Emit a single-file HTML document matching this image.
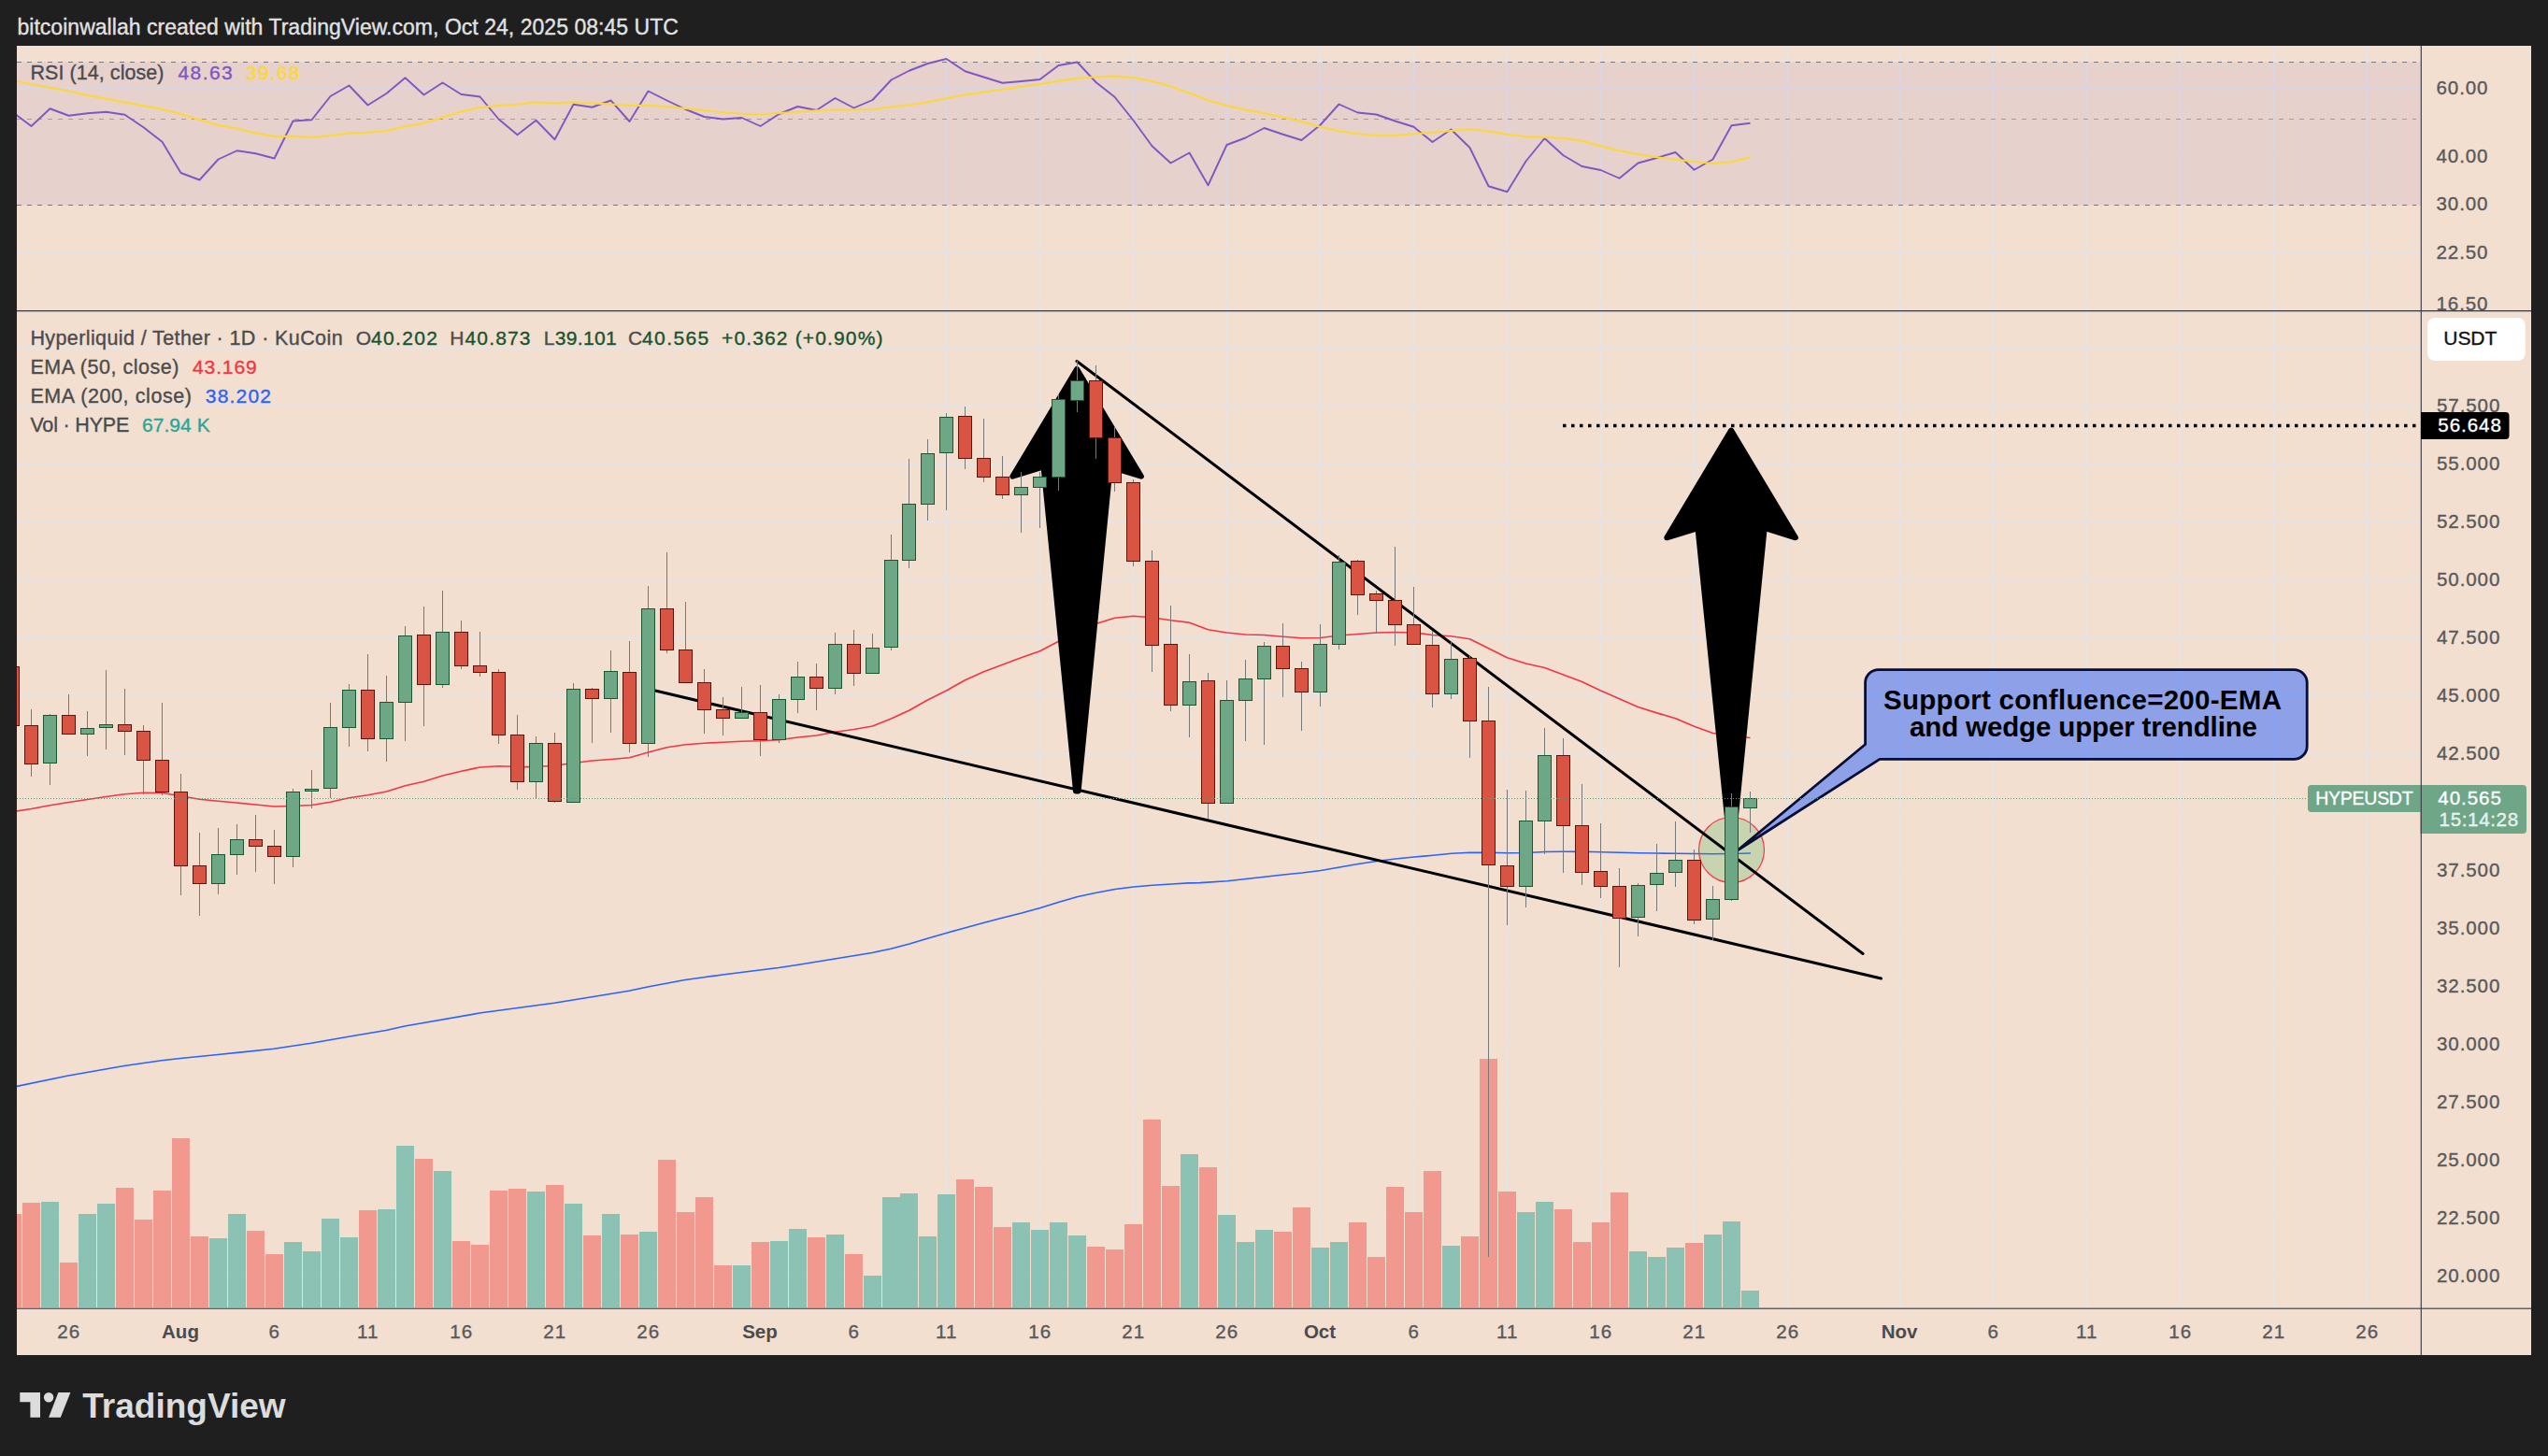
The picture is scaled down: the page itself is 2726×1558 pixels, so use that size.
<!DOCTYPE html>
<html lang="en"><head><meta charset="utf-8"><title>HYPEUSDT chart</title>
<style>
html,body{margin:0;padding:0;background:#1f1f1f;}
body{width:2726px;height:1558px;overflow:hidden;font-family:"Liberation Sans", Arial, sans-serif;}
svg{display:block;font-family:"Liberation Sans", Arial, sans-serif;}
text{white-space:pre;}
</style></head><body>
<svg width="2726" height="1558" viewBox="0 0 2726 1558">
<defs>
<clipPath id="plot"><rect x="18" y="49" width="2572" height="1351"/></clipPath>
<clipPath id="rsi"><rect x="18" y="49" width="2690" height="283.0"/></clipPath>
<clipPath id="main"><rect x="18" y="332.5" width="2572" height="1067.5"/></clipPath>
</defs>
<rect width="2726" height="1558" fill="#1f1f1f"/>
<rect x="18" y="49" width="2690" height="1401" fill="#f2dfcf"/>

<text x="18.4" y="36.5" font-size="23" fill="#e2e2e2" stroke="#e2e2e2" stroke-width="0.35" textLength="707.5" lengthAdjust="spacing" >bitcoinwallah created with TradingView.com, Oct 24, 2025 08:45 UTC</text>
<g stroke="#e5e5e7" stroke-width="1" shape-rendering="crispEdges">
<line x1="73.5" y1="49" x2="73.5" y2="1400"/>
<line x1="193.5" y1="49" x2="193.5" y2="1400"/>
<line x1="293.5" y1="49" x2="293.5" y2="1400"/>
<line x1="393.5" y1="49" x2="393.5" y2="1400"/>
<line x1="493.5" y1="49" x2="493.5" y2="1400"/>
<line x1="593.5" y1="49" x2="593.5" y2="1400"/>
<line x1="693.5" y1="49" x2="693.5" y2="1400"/>
<line x1="813.5" y1="49" x2="813.5" y2="1400"/>
<line x1="913.5" y1="49" x2="913.5" y2="1400"/>
<line x1="1012.5" y1="49" x2="1012.5" y2="1400"/>
<line x1="1112.5" y1="49" x2="1112.5" y2="1400"/>
<line x1="1212.5" y1="49" x2="1212.5" y2="1400"/>
<line x1="1312.5" y1="49" x2="1312.5" y2="1400"/>
<line x1="1412.5" y1="49" x2="1412.5" y2="1400"/>
<line x1="1512.5" y1="49" x2="1512.5" y2="1400"/>
<line x1="1612.5" y1="49" x2="1612.5" y2="1400"/>
<line x1="1712.5" y1="49" x2="1712.5" y2="1400"/>
<line x1="1812.5" y1="49" x2="1812.5" y2="1400"/>
<line x1="1912.5" y1="49" x2="1912.5" y2="1400"/>
<line x1="2032.5" y1="49" x2="2032.5" y2="1400"/>
<line x1="2132.5" y1="49" x2="2132.5" y2="1400"/>
<line x1="2232.5" y1="49" x2="2232.5" y2="1400"/>
<line x1="2332.5" y1="49" x2="2332.5" y2="1400"/>
<line x1="2432.5" y1="49" x2="2432.5" y2="1400"/>
<line x1="2532.5" y1="49" x2="2532.5" y2="1400"/>
<line x1="18" y1="94.5" x2="2590" y2="94.5"/>
<line x1="18" y1="167.5" x2="2590" y2="167.5"/>
<line x1="18" y1="270.5" x2="2590" y2="270.5"/>
<line x1="18" y1="325.5" x2="2590" y2="325.5"/>
<line x1="18" y1="372.5" x2="2590" y2="372.5"/>
<line x1="18" y1="434.5" x2="2590" y2="434.5"/>
<line x1="18" y1="496.5" x2="2590" y2="496.5"/>
<line x1="18" y1="558.5" x2="2590" y2="558.5"/>
<line x1="18" y1="620.5" x2="2590" y2="620.5"/>
<line x1="18" y1="682.5" x2="2590" y2="682.5"/>
<line x1="18" y1="744.5" x2="2590" y2="744.5"/>
<line x1="18" y1="806.5" x2="2590" y2="806.5"/>
<line x1="18" y1="869.5" x2="2590" y2="869.5"/>
<line x1="18" y1="931.5" x2="2590" y2="931.5"/>
<line x1="18" y1="993.5" x2="2590" y2="993.5"/>
<line x1="18" y1="1055.5" x2="2590" y2="1055.5"/>
<line x1="18" y1="1117.5" x2="2590" y2="1117.5"/>
<line x1="18" y1="1179.5" x2="2590" y2="1179.5"/>
<line x1="18" y1="1241.5" x2="2590" y2="1241.5"/>
<line x1="18" y1="1303.5" x2="2590" y2="1303.5"/>
<line x1="18" y1="1365.5" x2="2590" y2="1365.5"/>
</g>
<g clip-path="url(#plot)">
<rect x="18" y="66.5" width="2572" height="153.0" fill="#7e57c2" fill-opacity="0.1"/>
<g stroke-width="1.2" stroke-dasharray="5 6" fill="none">
<line x1="18" y1="66.5" x2="2585" y2="66.5" stroke="#737786"/>
<line x1="18" y1="127.5" x2="2585" y2="127.5" stroke="#737786" stroke-opacity="0.6"/>
<line x1="18" y1="219.5" x2="2585" y2="219.5" stroke="#737786"/>
</g>
<polyline points="13.5,120.00 33.5,135.00 53.5,116.25 73.5,123.75 93.5,121.25 113.5,119.75 133.5,122.75 153.5,136.25 173.5,151.75 193.5,185.00 213.5,192.50 233.5,170.50 253.5,161.25 273.5,164.25 293.5,169.50 313.5,129.50 333.5,128.25 353.5,103.00 373.5,91.50 393.5,112.50 413.5,100.00 433.5,83.25 453.5,101.50 473.5,88.50 493.5,101.00 513.5,103.50 533.5,127.50 553.5,144.25 573.5,128.75 593.5,149.25 613.5,111.75 633.5,114.75 653.5,107.50 673.5,130.00 693.5,97.50 713.5,107.50 733.5,117.00 753.5,125.00 773.5,127.50 793.5,126.00 813.5,135.00 833.5,122.00 853.5,114.00 873.5,118.00 893.5,105.00 913.5,115.50 933.5,107.00 953.5,85.50 972.5,75.75 992.5,68.00 1012.5,63.00 1032.5,76.25 1052.5,82.50 1072.5,88.75 1092.5,87.00 1112.5,85.00 1132.5,70.00 1152.5,66.50 1172.5,88.00 1192.5,103.75 1212.5,128.75 1232.5,156.25 1252.5,174.50 1272.5,163.50 1292.5,198.25 1312.5,155.00 1332.5,147.50 1352.5,137.00 1372.5,143.75 1392.5,150.00 1412.5,133.75 1432.5,111.50 1452.5,120.50 1472.5,122.50 1492.5,129.50 1512.5,135.75 1532.5,152.00 1552.5,138.50 1572.5,158.00 1592.5,199.25 1612.5,205.25 1632.5,172.50 1652.5,148.00 1672.5,166.25 1692.5,178.00 1712.5,182.00 1732.5,190.75 1752.5,174.50 1772.5,169.00 1792.5,163.00 1812.5,181.75 1832.5,170.50 1852.5,134.25 1872.5,131.75" fill="none" stroke="#7e57c2" stroke-width="1.9" stroke-linejoin="round"/>
<polyline points="13.5,86.00 33.5,90.00 53.5,93.75 73.5,97.50 93.5,102.00 113.5,105.75 133.5,109.50 153.5,113.25 173.5,117.00 193.5,122.00 213.5,128.25 233.5,134.00 253.5,137.50 273.5,142.50 293.5,146.00 313.5,145.75 333.5,147.00 353.5,145.00 373.5,142.50 393.5,141.75 413.5,140.00 433.5,135.50 453.5,131.75 473.5,125.50 493.5,119.50 513.5,115.00 533.5,113.00 553.5,111.75 573.5,109.50 593.5,110.50 613.5,109.25 633.5,110.50 653.5,111.50 673.5,113.00 693.5,112.75 713.5,114.25 733.5,116.00 753.5,118.25 773.5,120.25 793.5,121.75 813.5,122.50 833.5,121.00 853.5,119.75 873.5,118.25 893.5,117.50 913.5,117.50 933.5,117.25 953.5,114.25 972.5,112.50 992.5,109.25 1012.5,105.25 1032.5,101.50 1052.5,98.50 1072.5,95.75 1092.5,92.75 1112.5,90.00 1132.5,86.75 1152.5,83.75 1172.5,82.25 1192.5,81.50 1212.5,83.00 1232.5,87.00 1252.5,92.50 1272.5,99.50 1292.5,107.50 1312.5,113.00 1332.5,117.50 1352.5,121.25 1372.5,125.50 1392.5,130.00 1412.5,135.75 1432.5,140.25 1452.5,143.25 1472.5,145.00 1492.5,145.00 1512.5,143.25 1532.5,141.75 1552.5,140.00 1572.5,138.00 1592.5,140.50 1612.5,143.75 1632.5,146.25 1652.5,146.75 1672.5,148.00 1692.5,150.75 1712.5,156.25 1732.5,161.25 1752.5,165.25 1772.5,168.25 1792.5,170.50 1812.5,173.00 1832.5,175.00 1852.5,173.25 1872.5,168.25" fill="none" stroke="#fdd835" stroke-width="1.9" stroke-linejoin="round"/>
</g>
<text x="32.5" y="85" font-size="21.5" fill="#4b4b4d" stroke="#4b4b4d" stroke-width="0.35" textLength="143" lengthAdjust="spacing" >RSI (14, close)</text>
<text x="190.5" y="85" font-size="21" fill="#7e57c2" stroke="#7e57c2" stroke-width="0.35" textLength="58.3" lengthAdjust="spacing" >48.63</text>
<text x="263" y="85" font-size="21" fill="#fdd835" stroke="#fdd835" stroke-width="0.35" textLength="57.5" lengthAdjust="spacing" >39.68</text>
<g clip-path="url(#main)">
<g shape-rendering="crispEdges" fill-opacity="0.5">
<rect x="4.0" y="1299" width="19" height="100" fill="#ef5350"/>
<rect x="24.0" y="1287" width="19" height="112" fill="#ef5350"/>
<rect x="44.0" y="1286" width="19" height="113" fill="#26a69a"/>
<rect x="64.0" y="1351" width="19" height="48" fill="#ef5350"/>
<rect x="84.0" y="1299" width="19" height="100" fill="#26a69a"/>
<rect x="104.0" y="1288" width="19" height="111" fill="#26a69a"/>
<rect x="124.0" y="1271" width="19" height="128" fill="#ef5350"/>
<rect x="144.0" y="1305" width="19" height="94" fill="#ef5350"/>
<rect x="164.0" y="1274" width="19" height="125" fill="#ef5350"/>
<rect x="184.0" y="1218" width="19" height="181" fill="#ef5350"/>
<rect x="204.0" y="1323" width="19" height="76" fill="#ef5350"/>
<rect x="224.0" y="1325" width="19" height="74" fill="#26a69a"/>
<rect x="244.0" y="1299" width="19" height="100" fill="#26a69a"/>
<rect x="264.0" y="1317" width="19" height="82" fill="#ef5350"/>
<rect x="284.0" y="1342" width="19" height="57" fill="#ef5350"/>
<rect x="304.0" y="1329" width="19" height="70" fill="#26a69a"/>
<rect x="324.0" y="1339" width="19" height="60" fill="#26a69a"/>
<rect x="344.0" y="1304" width="19" height="95" fill="#26a69a"/>
<rect x="364.0" y="1324" width="19" height="75" fill="#26a69a"/>
<rect x="384.0" y="1295" width="19" height="104" fill="#ef5350"/>
<rect x="404.0" y="1294" width="19" height="105" fill="#26a69a"/>
<rect x="424.0" y="1226" width="19" height="173" fill="#26a69a"/>
<rect x="444.0" y="1240" width="19" height="159" fill="#ef5350"/>
<rect x="464.0" y="1253" width="19" height="146" fill="#26a69a"/>
<rect x="484.0" y="1328" width="19" height="71" fill="#ef5350"/>
<rect x="504.0" y="1332" width="19" height="67" fill="#ef5350"/>
<rect x="524.0" y="1274" width="19" height="125" fill="#ef5350"/>
<rect x="544.0" y="1272" width="19" height="127" fill="#ef5350"/>
<rect x="564.0" y="1275" width="19" height="124" fill="#26a69a"/>
<rect x="584.0" y="1268" width="19" height="131" fill="#ef5350"/>
<rect x="604.0" y="1288" width="19" height="111" fill="#26a69a"/>
<rect x="624.0" y="1322" width="19" height="77" fill="#ef5350"/>
<rect x="644.0" y="1299" width="19" height="100" fill="#26a69a"/>
<rect x="664.0" y="1321" width="19" height="78" fill="#ef5350"/>
<rect x="684.0" y="1318" width="19" height="81" fill="#26a69a"/>
<rect x="704.0" y="1241" width="19" height="158" fill="#ef5350"/>
<rect x="724.0" y="1297" width="19" height="102" fill="#ef5350"/>
<rect x="744.0" y="1281" width="19" height="118" fill="#ef5350"/>
<rect x="764.0" y="1354" width="19" height="45" fill="#ef5350"/>
<rect x="784.0" y="1354" width="19" height="45" fill="#26a69a"/>
<rect x="804.0" y="1329" width="19" height="70" fill="#ef5350"/>
<rect x="824.0" y="1328" width="19" height="71" fill="#26a69a"/>
<rect x="844.0" y="1315" width="19" height="84" fill="#26a69a"/>
<rect x="864.0" y="1324" width="19" height="75" fill="#ef5350"/>
<rect x="884.0" y="1321" width="19" height="78" fill="#26a69a"/>
<rect x="904.0" y="1342" width="19" height="57" fill="#ef5350"/>
<rect x="924.0" y="1365" width="19" height="34" fill="#26a69a"/>
<rect x="944.0" y="1281" width="19" height="118" fill="#26a69a"/>
<rect x="963.0" y="1277" width="19" height="122" fill="#26a69a"/>
<rect x="983.0" y="1323" width="19" height="76" fill="#26a69a"/>
<rect x="1003.0" y="1278" width="19" height="121" fill="#26a69a"/>
<rect x="1023.0" y="1262" width="19" height="137" fill="#ef5350"/>
<rect x="1043.0" y="1270" width="19" height="129" fill="#ef5350"/>
<rect x="1063.0" y="1313" width="19" height="86" fill="#ef5350"/>
<rect x="1083.0" y="1308" width="19" height="91" fill="#26a69a"/>
<rect x="1103.0" y="1316" width="19" height="83" fill="#26a69a"/>
<rect x="1123.0" y="1308" width="19" height="91" fill="#26a69a"/>
<rect x="1143.0" y="1322" width="19" height="77" fill="#26a69a"/>
<rect x="1163.0" y="1334" width="19" height="65" fill="#ef5350"/>
<rect x="1183.0" y="1337" width="19" height="62" fill="#ef5350"/>
<rect x="1203.0" y="1310" width="19" height="89" fill="#ef5350"/>
<rect x="1223.0" y="1198" width="19" height="201" fill="#ef5350"/>
<rect x="1243.0" y="1269" width="19" height="130" fill="#ef5350"/>
<rect x="1263.0" y="1235" width="19" height="164" fill="#26a69a"/>
<rect x="1283.0" y="1249" width="19" height="150" fill="#ef5350"/>
<rect x="1303.0" y="1300" width="19" height="99" fill="#26a69a"/>
<rect x="1323.0" y="1329" width="19" height="70" fill="#26a69a"/>
<rect x="1343.0" y="1316" width="19" height="83" fill="#26a69a"/>
<rect x="1363.0" y="1318" width="19" height="81" fill="#ef5350"/>
<rect x="1383.0" y="1292" width="19" height="107" fill="#ef5350"/>
<rect x="1403.0" y="1335" width="19" height="64" fill="#26a69a"/>
<rect x="1423.0" y="1329" width="19" height="70" fill="#26a69a"/>
<rect x="1443.0" y="1308" width="19" height="91" fill="#ef5350"/>
<rect x="1463.0" y="1345" width="19" height="54" fill="#ef5350"/>
<rect x="1483.0" y="1270" width="19" height="129" fill="#ef5350"/>
<rect x="1503.0" y="1297" width="19" height="102" fill="#ef5350"/>
<rect x="1523.0" y="1253" width="19" height="146" fill="#ef5350"/>
<rect x="1543.0" y="1333" width="19" height="66" fill="#26a69a"/>
<rect x="1563.0" y="1323" width="19" height="76" fill="#ef5350"/>
<rect x="1583.0" y="1133" width="19" height="266" fill="#ef5350"/>
<rect x="1603.0" y="1275" width="19" height="124" fill="#ef5350"/>
<rect x="1623.0" y="1297" width="19" height="102" fill="#26a69a"/>
<rect x="1643.0" y="1286" width="19" height="113" fill="#26a69a"/>
<rect x="1663.0" y="1294" width="19" height="105" fill="#ef5350"/>
<rect x="1683.0" y="1329" width="19" height="70" fill="#ef5350"/>
<rect x="1703.0" y="1308" width="19" height="91" fill="#ef5350"/>
<rect x="1723.0" y="1276" width="19" height="123" fill="#ef5350"/>
<rect x="1743.0" y="1339" width="19" height="60" fill="#26a69a"/>
<rect x="1763.0" y="1345" width="19" height="54" fill="#26a69a"/>
<rect x="1783.0" y="1335" width="19" height="64" fill="#26a69a"/>
<rect x="1803.0" y="1330" width="19" height="69" fill="#ef5350"/>
<rect x="1823.0" y="1321" width="19" height="78" fill="#26a69a"/>
<rect x="1843.0" y="1307" width="19" height="92" fill="#26a69a"/>
<rect x="1863.0" y="1381" width="19" height="18" fill="#26a69a"/>
</g>
<polyline points="13.0,1163.50 18.0,1162.50 73.0,1151.00 133.0,1140.50 173.0,1134.75 193.0,1132.50 233.0,1128.50 293.0,1122.25 333.0,1116.25 373.0,1109.25 413.0,1102.50 433.0,1098.00 513.0,1084.00 593.0,1073.25 647.0,1064.50 673.0,1060.25 693.0,1056.00 713.0,1052.25 733.0,1048.50 753.0,1045.75 773.0,1043.00 793.0,1040.50 813.0,1038.00 833.0,1035.50 853.0,1032.50 873.0,1029.25 893.0,1026.00 913.0,1022.75 933.0,1019.50 953.0,1015.25 973.0,1010.00 993.0,1004.00 1013.0,998.25 1033.0,992.75 1053.0,987.25 1073.0,982.00 1093.0,977.00 1113.0,971.50 1133.0,965.25 1153.0,959.50 1173.0,955.25 1193.0,951.50 1213.0,949.00 1233.0,947.25 1253.0,946.00 1273.0,944.75 1284.0,944.70 1313.0,942.75 1333.0,940.50 1353.0,938.25 1373.0,936.00 1393.0,934.00 1413.0,931.50 1433.0,928.00 1453.0,924.50 1473.0,921.50 1493.0,919.00 1513.0,917.00 1533.0,915.25 1553.0,913.25 1573.0,912.25 1593.0,912.25 1613.0,912.75 1633.0,912.50 1653.0,911.50 1673.0,911.25 1693.0,911.25 1713.0,911.75 1733.0,912.25 1753.0,912.75 1773.0,913.00 1793.0,913.25 1813.0,913.50 1833.0,913.75 1853.0,913.50 1873.0,913.00" fill="none" stroke="#2962ff" stroke-width="1.75" stroke-linejoin="round"/>
<polyline points="13.5,868.50 33.5,865.50 53.5,861.75 73.5,858.50 93.5,855.50 113.5,852.50 133.5,849.75 153.5,848.25 173.5,848.50 193.5,851.75 213.5,855.25 233.5,857.25 253.5,859.00 273.5,861.00 293.5,863.00 313.5,862.50 333.5,861.50 353.5,858.25 373.5,853.75 393.5,850.75 413.5,847.00 433.5,840.75 453.5,836.25 473.5,830.00 493.5,825.25 513.5,821.00 533.5,819.75 553.5,820.50 573.5,820.50 593.5,819.25 613.5,816.50 633.5,814.00 653.5,812.50 673.5,810.75 693.5,805.00 713.5,799.75 733.5,796.75 753.5,795.25 773.5,794.25 793.5,793.25 813.5,792.75 833.5,791.75 853.5,789.00 873.5,787.00 893.5,783.25 913.5,780.50 933.5,777.00 953.5,769.00 972.5,760.25 992.5,749.00 1012.5,739.00 1032.5,727.75 1052.5,718.75 1072.5,711.25 1092.5,703.75 1112.5,696.75 1132.5,686.25 1152.5,676.25 1172.5,667.50 1192.5,661.25 1212.5,659.25 1232.5,660.75 1252.5,663.75 1272.5,666.25 1292.5,673.75 1312.5,677.00 1332.5,679.00 1352.5,679.50 1372.5,681.25 1392.5,682.75 1412.5,682.50 1432.5,680.00 1452.5,678.50 1472.5,677.00 1492.5,676.50 1512.5,677.00 1532.5,679.50 1552.5,680.75 1572.5,683.75 1592.5,693.75 1612.5,703.75 1632.5,710.00 1652.5,714.50 1672.5,722.00 1692.5,729.50 1712.5,739.00 1732.5,747.75 1752.5,756.50 1772.5,762.80 1792.5,768.75 1812.5,777.30 1832.5,784.50 1852.5,787.50 1872.5,789.50" fill="none" stroke="#f23645" stroke-width="1.75" stroke-linejoin="round"/>
<polygon points="1152.1,395.0 1220.9,509.7 1187.7,499.4 1153.6,846.5 1151.0,846.5 1116.5,499.4 1083.3,509.7" fill="#000" stroke="#000" stroke-width="6" stroke-linejoin="round"/>
<polygon points="1852.1,460.6 1920.9,575.3 1887.7,565.0 1853.7,906.0 1851.1,906.0 1816.5,565.1 1783.3,575.3" fill="#000" stroke="#000" stroke-width="6" stroke-linejoin="round"/>
<circle cx="1852.5" cy="909.5" r="35" fill="#4caf50" fill-opacity="0.25" stroke="#f23645" stroke-width="1.2"/>
<g stroke="#000" stroke-width="3.05" stroke-linecap="round">
<line x1="1152" y1="386.5" x2="1993" y2="1020.5"/>
<line x1="693.5" y1="737.3" x2="2012.5" y2="1047"/>
</g>
<line x1="1672" y1="455.4" x2="2586" y2="455.4" stroke="#000" stroke-width="3.5" stroke-dasharray="3.5 5.5"/>
<path d="M2009.6,716.6 H2454.2 a14,14 0 0 1 14,14 V798.4 a14,14 0 0 1 -14,14 H2011 L1858.8,910 L1995.6,796.5 V730.6 a14,14 0 0 1 14,-14 Z" fill="#2962ff" fill-opacity="0.5" stroke="none"/>
<path d="M2009.6,716.6 H2454.2 a14,14 0 0 1 14,14 V798.4 a14,14 0 0 1 -14,14 H2011 L1858.8,910 L1995.6,796.5 V730.6 a14,14 0 0 1 14,-14 Z" fill="none" stroke="#060e36" stroke-width="2.8" stroke-linejoin="round"/>
<text x="2228" y="758.75" font-size="29.5" fill="#000" font-weight="bold" textLength="426" lengthAdjust="spacing" text-anchor="middle" >Support confluence=200-EMA</text>
<text x="2229" y="787.5" font-size="29.5" fill="#000" font-weight="bold" textLength="372" lengthAdjust="spacing" text-anchor="middle" >and wedge upper trendline</text>
<g shape-rendering="crispEdges">
<rect x="13.0" y="713" width="1" height="63" fill="#77787a"/>
<rect x="6.5" y="713.5" width="14" height="63.0" fill="#d95443" stroke="#5c140c" stroke-width="1"/>
<rect x="33.0" y="759" width="1" height="72" fill="#77787a"/>
<rect x="26.5" y="776.5" width="14" height="41.0" fill="#d95443" stroke="#5c140c" stroke-width="1"/>
<rect x="53.0" y="764" width="1" height="76" fill="#77787a"/>
<rect x="46.5" y="765.5" width="14" height="51.0" fill="#6ea785" stroke="#1b5532" stroke-width="1"/>
<rect x="73.0" y="743" width="1" height="43" fill="#77787a"/>
<rect x="66.5" y="765.5" width="14" height="20.0" fill="#d95443" stroke="#5c140c" stroke-width="1"/>
<rect x="93.0" y="761" width="1" height="48" fill="#77787a"/>
<rect x="86.5" y="779.5" width="14" height="6.0" fill="#6ea785" stroke="#1b5532" stroke-width="1"/>
<rect x="113.0" y="717" width="1" height="85" fill="#77787a"/>
<rect x="106.5" y="775.5" width="14" height="3.0" fill="#6ea785" stroke="#1b5532" stroke-width="1"/>
<rect x="133.0" y="737" width="1" height="71" fill="#77787a"/>
<rect x="126.5" y="775.5" width="14" height="7.0" fill="#d95443" stroke="#5c140c" stroke-width="1"/>
<rect x="153.0" y="776" width="1" height="74" fill="#77787a"/>
<rect x="146.5" y="782.5" width="14" height="31.0" fill="#d95443" stroke="#5c140c" stroke-width="1"/>
<rect x="173.0" y="752" width="1" height="99" fill="#77787a"/>
<rect x="166.5" y="813.5" width="14" height="34.0" fill="#d95443" stroke="#5c140c" stroke-width="1"/>
<rect x="193.0" y="828" width="1" height="130" fill="#77787a"/>
<rect x="186.5" y="847.5" width="14" height="79.0" fill="#d95443" stroke="#5c140c" stroke-width="1"/>
<rect x="213.0" y="891" width="1" height="89" fill="#77787a"/>
<rect x="206.5" y="926.5" width="14" height="19.0" fill="#d95443" stroke="#5c140c" stroke-width="1"/>
<rect x="233.0" y="886" width="1" height="71" fill="#77787a"/>
<rect x="226.5" y="914.5" width="14" height="31.0" fill="#6ea785" stroke="#1b5532" stroke-width="1"/>
<rect x="253.0" y="882" width="1" height="54" fill="#77787a"/>
<rect x="246.5" y="898.5" width="14" height="16.0" fill="#6ea785" stroke="#1b5532" stroke-width="1"/>
<rect x="273.0" y="872" width="1" height="61" fill="#77787a"/>
<rect x="266.5" y="898.5" width="14" height="7.0" fill="#d95443" stroke="#5c140c" stroke-width="1"/>
<rect x="293.0" y="888" width="1" height="58" fill="#77787a"/>
<rect x="286.5" y="905.5" width="14" height="11.0" fill="#d95443" stroke="#5c140c" stroke-width="1"/>
<rect x="313.0" y="844" width="1" height="84" fill="#77787a"/>
<rect x="306.5" y="847.5" width="14" height="69.0" fill="#6ea785" stroke="#1b5532" stroke-width="1"/>
<rect x="333.0" y="824" width="1" height="41" fill="#77787a"/>
<rect x="326.5" y="844.5" width="14" height="2.0" fill="#6ea785" stroke="#1b5532" stroke-width="1"/>
<rect x="353.0" y="752" width="1" height="102" fill="#77787a"/>
<rect x="346.5" y="778.5" width="14" height="65.0" fill="#6ea785" stroke="#1b5532" stroke-width="1"/>
<rect x="373.0" y="732" width="1" height="67" fill="#77787a"/>
<rect x="366.5" y="738.5" width="14" height="40.0" fill="#6ea785" stroke="#1b5532" stroke-width="1"/>
<rect x="393.0" y="700" width="1" height="104" fill="#77787a"/>
<rect x="386.5" y="738.5" width="14" height="52.0" fill="#d95443" stroke="#5c140c" stroke-width="1"/>
<rect x="413.0" y="723" width="1" height="92" fill="#77787a"/>
<rect x="406.5" y="751.5" width="14" height="39.0" fill="#6ea785" stroke="#1b5532" stroke-width="1"/>
<rect x="433.0" y="670" width="1" height="123" fill="#77787a"/>
<rect x="426.5" y="680.5" width="14" height="71.0" fill="#6ea785" stroke="#1b5532" stroke-width="1"/>
<rect x="453.0" y="649" width="1" height="128" fill="#77787a"/>
<rect x="446.5" y="679.5" width="14" height="53.0" fill="#d95443" stroke="#5c140c" stroke-width="1"/>
<rect x="473.0" y="632" width="1" height="104" fill="#77787a"/>
<rect x="466.5" y="676.5" width="14" height="56.0" fill="#6ea785" stroke="#1b5532" stroke-width="1"/>
<rect x="493.0" y="664" width="1" height="52" fill="#77787a"/>
<rect x="486.5" y="676.5" width="14" height="36.0" fill="#d95443" stroke="#5c140c" stroke-width="1"/>
<rect x="513.0" y="676" width="1" height="48" fill="#77787a"/>
<rect x="506.5" y="712.5" width="14" height="7.0" fill="#d95443" stroke="#5c140c" stroke-width="1"/>
<rect x="533.0" y="716" width="1" height="80" fill="#77787a"/>
<rect x="526.5" y="719.5" width="14" height="67.0" fill="#d95443" stroke="#5c140c" stroke-width="1"/>
<rect x="553.0" y="765" width="1" height="80" fill="#77787a"/>
<rect x="546.5" y="786.5" width="14" height="50.0" fill="#d95443" stroke="#5c140c" stroke-width="1"/>
<rect x="573.0" y="788" width="1" height="66" fill="#77787a"/>
<rect x="566.5" y="795.5" width="14" height="41.0" fill="#6ea785" stroke="#1b5532" stroke-width="1"/>
<rect x="593.0" y="784" width="1" height="75" fill="#77787a"/>
<rect x="586.5" y="795.5" width="14" height="62.0" fill="#d95443" stroke="#5c140c" stroke-width="1"/>
<rect x="613.0" y="731" width="1" height="128" fill="#77787a"/>
<rect x="606.5" y="737.5" width="14" height="121.0" fill="#6ea785" stroke="#1b5532" stroke-width="1"/>
<rect x="633.0" y="736" width="1" height="59" fill="#77787a"/>
<rect x="626.5" y="737.5" width="14" height="10.0" fill="#d95443" stroke="#5c140c" stroke-width="1"/>
<rect x="653.0" y="696" width="1" height="88" fill="#77787a"/>
<rect x="646.5" y="718.5" width="14" height="29.0" fill="#6ea785" stroke="#1b5532" stroke-width="1"/>
<rect x="673.0" y="686" width="1" height="119" fill="#77787a"/>
<rect x="666.5" y="719.5" width="14" height="76.0" fill="#d95443" stroke="#5c140c" stroke-width="1"/>
<rect x="693.0" y="627" width="1" height="183" fill="#77787a"/>
<rect x="686.5" y="651.5" width="14" height="144.0" fill="#6ea785" stroke="#1b5532" stroke-width="1"/>
<rect x="713.0" y="591" width="1" height="108" fill="#77787a"/>
<rect x="706.5" y="651.5" width="14" height="44.0" fill="#d95443" stroke="#5c140c" stroke-width="1"/>
<rect x="733.0" y="644" width="1" height="87" fill="#77787a"/>
<rect x="726.5" y="695.5" width="14" height="35.0" fill="#d95443" stroke="#5c140c" stroke-width="1"/>
<rect x="753.0" y="716" width="1" height="69" fill="#77787a"/>
<rect x="746.5" y="730.5" width="14" height="29.0" fill="#d95443" stroke="#5c140c" stroke-width="1"/>
<rect x="773.0" y="746" width="1" height="41" fill="#77787a"/>
<rect x="766.5" y="759.5" width="14" height="9.0" fill="#d95443" stroke="#5c140c" stroke-width="1"/>
<rect x="793.0" y="735" width="1" height="34" fill="#77787a"/>
<rect x="786.5" y="762.5" width="14" height="6.0" fill="#6ea785" stroke="#1b5532" stroke-width="1"/>
<rect x="813.0" y="733" width="1" height="76" fill="#77787a"/>
<rect x="806.5" y="762.5" width="14" height="29.0" fill="#d95443" stroke="#5c140c" stroke-width="1"/>
<rect x="833.0" y="743" width="1" height="52" fill="#77787a"/>
<rect x="826.5" y="748.5" width="14" height="43.0" fill="#6ea785" stroke="#1b5532" stroke-width="1"/>
<rect x="853.0" y="708" width="1" height="55" fill="#77787a"/>
<rect x="846.5" y="724.5" width="14" height="24.0" fill="#6ea785" stroke="#1b5532" stroke-width="1"/>
<rect x="873.0" y="710" width="1" height="50" fill="#77787a"/>
<rect x="866.5" y="724.5" width="14" height="12.0" fill="#d95443" stroke="#5c140c" stroke-width="1"/>
<rect x="893.0" y="677" width="1" height="66" fill="#77787a"/>
<rect x="886.5" y="689.5" width="14" height="47.0" fill="#6ea785" stroke="#1b5532" stroke-width="1"/>
<rect x="913.0" y="674" width="1" height="60" fill="#77787a"/>
<rect x="906.5" y="689.5" width="14" height="31.0" fill="#d95443" stroke="#5c140c" stroke-width="1"/>
<rect x="933.0" y="678" width="1" height="43" fill="#77787a"/>
<rect x="926.5" y="693.5" width="14" height="27.0" fill="#6ea785" stroke="#1b5532" stroke-width="1"/>
<rect x="953.0" y="572" width="1" height="124" fill="#77787a"/>
<rect x="946.5" y="599.5" width="14" height="93.0" fill="#6ea785" stroke="#1b5532" stroke-width="1"/>
<rect x="972.0" y="491" width="1" height="117" fill="#77787a"/>
<rect x="965.5" y="539.5" width="14" height="60.0" fill="#6ea785" stroke="#1b5532" stroke-width="1"/>
<rect x="992.0" y="470" width="1" height="87" fill="#77787a"/>
<rect x="985.5" y="485.5" width="14" height="54.0" fill="#6ea785" stroke="#1b5532" stroke-width="1"/>
<rect x="1012.0" y="442" width="1" height="104" fill="#77787a"/>
<rect x="1005.5" y="446.5" width="14" height="38.0" fill="#6ea785" stroke="#1b5532" stroke-width="1"/>
<rect x="1032.0" y="435" width="1" height="67" fill="#77787a"/>
<rect x="1025.5" y="445.5" width="14" height="45.0" fill="#d95443" stroke="#5c140c" stroke-width="1"/>
<rect x="1052.0" y="448" width="1" height="68" fill="#77787a"/>
<rect x="1045.5" y="490.5" width="14" height="20.0" fill="#d95443" stroke="#5c140c" stroke-width="1"/>
<rect x="1072.0" y="488" width="1" height="46" fill="#77787a"/>
<rect x="1065.5" y="510.5" width="14" height="19.0" fill="#d95443" stroke="#5c140c" stroke-width="1"/>
<rect x="1092.0" y="505" width="1" height="65" fill="#77787a"/>
<rect x="1085.5" y="521.5" width="14" height="8.0" fill="#6ea785" stroke="#1b5532" stroke-width="1"/>
<rect x="1112.0" y="505" width="1" height="60" fill="#77787a"/>
<rect x="1105.5" y="510.5" width="14" height="11.0" fill="#6ea785" stroke="#1b5532" stroke-width="1"/>
<rect x="1132.0" y="422" width="1" height="103" fill="#77787a"/>
<rect x="1125.5" y="427.5" width="14" height="83.0" fill="#6ea785" stroke="#1b5532" stroke-width="1"/>
<rect x="1152.0" y="386" width="1" height="55" fill="#77787a"/>
<rect x="1145.5" y="407.5" width="14" height="21.0" fill="#6ea785" stroke="#1b5532" stroke-width="1"/>
<rect x="1172.0" y="391" width="1" height="100" fill="#77787a"/>
<rect x="1165.5" y="407.5" width="14" height="61.0" fill="#d95443" stroke="#5c140c" stroke-width="1"/>
<rect x="1192.0" y="456" width="1" height="70" fill="#77787a"/>
<rect x="1185.5" y="468.5" width="14" height="48.0" fill="#d95443" stroke="#5c140c" stroke-width="1"/>
<rect x="1212.0" y="513" width="1" height="93" fill="#77787a"/>
<rect x="1205.5" y="516.5" width="14" height="84.0" fill="#d95443" stroke="#5c140c" stroke-width="1"/>
<rect x="1232.0" y="589" width="1" height="130" fill="#77787a"/>
<rect x="1225.5" y="600.5" width="14" height="90.0" fill="#d95443" stroke="#5c140c" stroke-width="1"/>
<rect x="1252.0" y="648" width="1" height="113" fill="#77787a"/>
<rect x="1245.5" y="689.5" width="14" height="65.0" fill="#d95443" stroke="#5c140c" stroke-width="1"/>
<rect x="1272.0" y="700" width="1" height="89" fill="#77787a"/>
<rect x="1265.5" y="729.5" width="14" height="25.0" fill="#6ea785" stroke="#1b5532" stroke-width="1"/>
<rect x="1292.0" y="720" width="1" height="156" fill="#77787a"/>
<rect x="1285.5" y="728.5" width="14" height="131.0" fill="#d95443" stroke="#5c140c" stroke-width="1"/>
<rect x="1312.0" y="728" width="1" height="132" fill="#77787a"/>
<rect x="1305.5" y="749.5" width="14" height="110.0" fill="#6ea785" stroke="#1b5532" stroke-width="1"/>
<rect x="1332.0" y="706" width="1" height="87" fill="#77787a"/>
<rect x="1325.5" y="726.5" width="14" height="23.0" fill="#6ea785" stroke="#1b5532" stroke-width="1"/>
<rect x="1352.0" y="687" width="1" height="110" fill="#77787a"/>
<rect x="1345.5" y="691.5" width="14" height="35.0" fill="#6ea785" stroke="#1b5532" stroke-width="1"/>
<rect x="1372.0" y="667" width="1" height="79" fill="#77787a"/>
<rect x="1365.5" y="691.5" width="14" height="24.0" fill="#d95443" stroke="#5c140c" stroke-width="1"/>
<rect x="1392.0" y="708" width="1" height="74" fill="#77787a"/>
<rect x="1385.5" y="715.5" width="14" height="25.0" fill="#d95443" stroke="#5c140c" stroke-width="1"/>
<rect x="1412.0" y="668" width="1" height="88" fill="#77787a"/>
<rect x="1405.5" y="689.5" width="14" height="51.0" fill="#6ea785" stroke="#1b5532" stroke-width="1"/>
<rect x="1432.0" y="594" width="1" height="101" fill="#77787a"/>
<rect x="1425.5" y="601.5" width="14" height="88.0" fill="#6ea785" stroke="#1b5532" stroke-width="1"/>
<rect x="1452.0" y="599" width="1" height="59" fill="#77787a"/>
<rect x="1445.5" y="600.5" width="14" height="36.0" fill="#d95443" stroke="#5c140c" stroke-width="1"/>
<rect x="1472.0" y="632" width="1" height="46" fill="#77787a"/>
<rect x="1465.5" y="635.5" width="14" height="7.0" fill="#d95443" stroke="#5c140c" stroke-width="1"/>
<rect x="1492.0" y="585" width="1" height="106" fill="#77787a"/>
<rect x="1485.5" y="642.5" width="14" height="26.0" fill="#d95443" stroke="#5c140c" stroke-width="1"/>
<rect x="1512.0" y="628" width="1" height="62" fill="#77787a"/>
<rect x="1505.5" y="668.5" width="14" height="21.0" fill="#d95443" stroke="#5c140c" stroke-width="1"/>
<rect x="1532.0" y="675" width="1" height="82" fill="#77787a"/>
<rect x="1525.5" y="690.5" width="14" height="52.0" fill="#d95443" stroke="#5c140c" stroke-width="1"/>
<rect x="1552.0" y="686" width="1" height="62" fill="#77787a"/>
<rect x="1545.5" y="705.5" width="14" height="37.0" fill="#6ea785" stroke="#1b5532" stroke-width="1"/>
<rect x="1572.0" y="701" width="1" height="110" fill="#77787a"/>
<rect x="1565.5" y="704.5" width="14" height="67.0" fill="#d95443" stroke="#5c140c" stroke-width="1"/>
<rect x="1592.0" y="735" width="1" height="610" fill="#77787a"/>
<rect x="1585.5" y="771.5" width="14" height="154.0" fill="#d95443" stroke="#5c140c" stroke-width="1"/>
<rect x="1612.0" y="845" width="1" height="145" fill="#77787a"/>
<rect x="1605.5" y="926.5" width="14" height="22.0" fill="#d95443" stroke="#5c140c" stroke-width="1"/>
<rect x="1632.0" y="846" width="1" height="125" fill="#77787a"/>
<rect x="1625.5" y="878.5" width="14" height="70.0" fill="#6ea785" stroke="#1b5532" stroke-width="1"/>
<rect x="1652.0" y="779" width="1" height="135" fill="#77787a"/>
<rect x="1645.5" y="808.5" width="14" height="70.0" fill="#6ea785" stroke="#1b5532" stroke-width="1"/>
<rect x="1672.0" y="790" width="1" height="144" fill="#77787a"/>
<rect x="1665.5" y="808.5" width="14" height="75.0" fill="#d95443" stroke="#5c140c" stroke-width="1"/>
<rect x="1692.0" y="839" width="1" height="108" fill="#77787a"/>
<rect x="1685.5" y="883.5" width="14" height="50.0" fill="#d95443" stroke="#5c140c" stroke-width="1"/>
<rect x="1712.0" y="881" width="1" height="80" fill="#77787a"/>
<rect x="1705.5" y="932.5" width="14" height="16.0" fill="#d95443" stroke="#5c140c" stroke-width="1"/>
<rect x="1732.0" y="929" width="1" height="106" fill="#77787a"/>
<rect x="1725.5" y="948.5" width="14" height="34.0" fill="#d95443" stroke="#5c140c" stroke-width="1"/>
<rect x="1752.0" y="945" width="1" height="57" fill="#77787a"/>
<rect x="1745.5" y="947.5" width="14" height="34.0" fill="#6ea785" stroke="#1b5532" stroke-width="1"/>
<rect x="1772.0" y="903" width="1" height="72" fill="#77787a"/>
<rect x="1765.5" y="934.5" width="14" height="12.0" fill="#6ea785" stroke="#1b5532" stroke-width="1"/>
<rect x="1792.0" y="879" width="1" height="70" fill="#77787a"/>
<rect x="1785.5" y="920.5" width="14" height="13.0" fill="#6ea785" stroke="#1b5532" stroke-width="1"/>
<rect x="1812.0" y="909" width="1" height="80" fill="#77787a"/>
<rect x="1805.5" y="920.5" width="14" height="64.0" fill="#d95443" stroke="#5c140c" stroke-width="1"/>
<rect x="1832.0" y="948" width="1" height="58" fill="#77787a"/>
<rect x="1825.5" y="962.5" width="14" height="21.0" fill="#6ea785" stroke="#1b5532" stroke-width="1"/>
<rect x="1852.0" y="849" width="1" height="115" fill="#77787a"/>
<rect x="1845.5" y="863.5" width="14" height="99.0" fill="#6ea785" stroke="#1b5532" stroke-width="1"/>
<rect x="1872.0" y="847" width="1" height="44" fill="#77787a"/>
<rect x="1865.5" y="854.5" width="14" height="10.0" fill="#6ea785" stroke="#1b5532" stroke-width="1"/>
</g>
<line x1="18" y1="854.5" x2="2469" y2="854.5" stroke="#5a9a78" stroke-width="1" stroke-dasharray="1 2"/>
</g>
<text x="32.4" y="368.75" font-size="21.5" fill="#4b4b4d" stroke="#4b4b4d" stroke-width="0.35" textLength="334.2" lengthAdjust="spacing" >Hyperliquid / Tether · 1D · KuCoin</text>
<text x="380.75" y="368.75" font-size="21" fill="#4b4b4d" stroke="#4b4b4d" stroke-width="0.35" >O</text>
<text x="397" y="368.75" font-size="21" fill="#17532f" stroke="#17532f" stroke-width="0.35" textLength="71" lengthAdjust="spacing" >40.202</text>
<text x="481.25" y="368.75" font-size="21" fill="#4b4b4d" stroke="#4b4b4d" stroke-width="0.35" >H</text>
<text x="497.5" y="368.75" font-size="21" fill="#17532f" stroke="#17532f" stroke-width="0.35" textLength="70" lengthAdjust="spacing" >40.873</text>
<text x="581.75" y="368.75" font-size="21" fill="#4b4b4d" stroke="#4b4b4d" stroke-width="0.35" >L</text>
<text x="593.75" y="368.75" font-size="21" fill="#17532f" stroke="#17532f" stroke-width="0.35" textLength="66" lengthAdjust="spacing" >39.101</text>
<text x="672" y="368.75" font-size="21" fill="#4b4b4d" stroke="#4b4b4d" stroke-width="0.35" >C</text>
<text x="687" y="368.75" font-size="21" fill="#17532f" stroke="#17532f" stroke-width="0.35" textLength="71.25" lengthAdjust="spacing" >40.565</text>
<text x="772" y="368.75" font-size="21" fill="#17532f" stroke="#17532f" stroke-width="0.35" textLength="172.5" lengthAdjust="spacing" >+0.362 (+0.90%)</text>
<text x="32.4" y="399.5" font-size="21.5" fill="#4b4b4d" stroke="#4b4b4d" stroke-width="0.35" textLength="158.9" lengthAdjust="spacing" >EMA (50, close)</text>
<text x="206" y="399.5" font-size="21" fill="#f23645" stroke="#f23645" stroke-width="0.35" textLength="68.7" lengthAdjust="spacing" >43.169</text>
<text x="32.4" y="430.9" font-size="21.5" fill="#4b4b4d" stroke="#4b4b4d" stroke-width="0.35" textLength="172.6" lengthAdjust="spacing" >EMA (200, close)</text>
<text x="219.8" y="430.9" font-size="21" fill="#2962ff" stroke="#2962ff" stroke-width="0.35" textLength="70.2" lengthAdjust="spacing" >38.202</text>
<text x="32.4" y="461.7" font-size="21.5" fill="#4b4b4d" stroke="#4b4b4d" stroke-width="0.35" textLength="105.9" lengthAdjust="spacing" >Vol · HYPE</text>
<text x="152" y="461.7" font-size="21" fill="#26a69a" stroke="#26a69a" stroke-width="0.35" textLength="72.7" lengthAdjust="spacing" >67.94 K</text>
<rect x="18" y="332.1" width="2690" height="1.2" fill="#2a2e39"/>
<rect x="2589.7" y="49" width="1.2" height="1401" fill="#404249"/>
<rect x="18" y="1399.6" width="2690" height="1.2" fill="#404249"/>
<g clip-path="url(#rsi)">
<text x="2606.5" y="100.8" font-size="20.5" fill="#58595c" stroke="#58595c" stroke-width="0.35" textLength="55" lengthAdjust="spacing" >60.00</text>
<text x="2606.5" y="173.8" font-size="20.5" fill="#58595c" stroke="#58595c" stroke-width="0.35" textLength="55" lengthAdjust="spacing" >40.00</text>
<text x="2606.5" y="224.8" font-size="20.5" fill="#58595c" stroke="#58595c" stroke-width="0.35" textLength="55" lengthAdjust="spacing" >30.00</text>
<text x="2606.5" y="276.8" font-size="20.5" fill="#58595c" stroke="#58595c" stroke-width="0.35" textLength="55" lengthAdjust="spacing" >22.50</text>
<text x="2606.5" y="331.8" font-size="20.5" fill="#58595c" stroke="#58595c" stroke-width="0.35" textLength="55" lengthAdjust="spacing" >16.50</text>
</g>
<text x="2607" y="440.8" font-size="20.5" fill="#58595c" stroke="#58595c" stroke-width="0.35" textLength="67.3" lengthAdjust="spacing" >57.500</text>
<text x="2607" y="502.8" font-size="20.5" fill="#58595c" stroke="#58595c" stroke-width="0.35" textLength="67.3" lengthAdjust="spacing" >55.000</text>
<text x="2607" y="564.8" font-size="20.5" fill="#58595c" stroke="#58595c" stroke-width="0.35" textLength="67.3" lengthAdjust="spacing" >52.500</text>
<text x="2607" y="626.8" font-size="20.5" fill="#58595c" stroke="#58595c" stroke-width="0.35" textLength="67.3" lengthAdjust="spacing" >50.000</text>
<text x="2607" y="688.8" font-size="20.5" fill="#58595c" stroke="#58595c" stroke-width="0.35" textLength="67.3" lengthAdjust="spacing" >47.500</text>
<text x="2607" y="750.8" font-size="20.5" fill="#58595c" stroke="#58595c" stroke-width="0.35" textLength="67.3" lengthAdjust="spacing" >45.000</text>
<text x="2607" y="812.8" font-size="20.5" fill="#58595c" stroke="#58595c" stroke-width="0.35" textLength="67.3" lengthAdjust="spacing" >42.500</text>
<text x="2607" y="937.8" font-size="20.5" fill="#58595c" stroke="#58595c" stroke-width="0.35" textLength="67.3" lengthAdjust="spacing" >37.500</text>
<text x="2607" y="999.8" font-size="20.5" fill="#58595c" stroke="#58595c" stroke-width="0.35" textLength="67.3" lengthAdjust="spacing" >35.000</text>
<text x="2607" y="1061.8" font-size="20.5" fill="#58595c" stroke="#58595c" stroke-width="0.35" textLength="67.3" lengthAdjust="spacing" >32.500</text>
<text x="2607" y="1123.8" font-size="20.5" fill="#58595c" stroke="#58595c" stroke-width="0.35" textLength="67.3" lengthAdjust="spacing" >30.000</text>
<text x="2607" y="1185.8" font-size="20.5" fill="#58595c" stroke="#58595c" stroke-width="0.35" textLength="67.3" lengthAdjust="spacing" >27.500</text>
<text x="2607" y="1247.8" font-size="20.5" fill="#58595c" stroke="#58595c" stroke-width="0.35" textLength="67.3" lengthAdjust="spacing" >25.000</text>
<text x="2607" y="1309.8" font-size="20.5" fill="#58595c" stroke="#58595c" stroke-width="0.35" textLength="67.3" lengthAdjust="spacing" >22.500</text>
<text x="2607" y="1371.8" font-size="20.5" fill="#58595c" stroke="#58595c" stroke-width="0.35" textLength="67.3" lengthAdjust="spacing" >20.000</text>
<rect x="2597" y="340" width="104.7" height="46" rx="8" fill="#fff"/>
<text x="2614.3" y="369.4" font-size="21" fill="#111" stroke="#111" stroke-width="0.35" textLength="57" lengthAdjust="spacing" >USDT</text>
<path d="M2590,441 H2680.5 a4,4 0 0 1 4,4 V466 a4,4 0 0 1 -4,4 H2590 Z" fill="#000"/>
<text x="2608.3" y="462.1" font-size="20.5" fill="#fff" stroke="#fff" stroke-width="0.35" textLength="67.6" lengthAdjust="spacing" >56.648</text>
<path d="M2590,840 V869 H2473 a4,4 0 0 1 -4,-4 V844 a4,4 0 0 1 4,-4 Z" fill="#6ea687"/>
<text x="2477.3" y="861.3" font-size="19.5" fill="#fff" stroke="#fff" stroke-width="0.35" textLength="104.3" lengthAdjust="spacing" >HYPEUSDT</text>
<path d="M2590,840 H2699 a4,4 0 0 1 4,4 V888 a4,4 0 0 1 -4,4 H2590 Z" fill="#6ea687"/>
<rect x="2589.7" y="840" width="1.2" height="52" fill="#404249"/>
<text x="2608.3" y="860.7" font-size="20.5" fill="#fff" stroke="#fff" stroke-width="0.35" textLength="67.6" lengthAdjust="spacing" >40.565</text>
<text x="2609.6" y="884" font-size="20.5" fill="#fff" stroke="#fff" stroke-width="0.35" textLength="84.5" lengthAdjust="spacing" fill-opacity="0.8">15:14:28</text>
<text x="193.0" y="1431.8" font-size="20.5" fill="#4a4b4e" font-weight="bold" text-anchor="middle" >Aug</text>
<text x="813.0" y="1431.8" font-size="20.5" fill="#4a4b4e" font-weight="bold" text-anchor="middle" >Sep</text>
<text x="1412.0" y="1431.8" font-size="20.5" fill="#4a4b4e" font-weight="bold" text-anchor="middle" >Oct</text>
<text x="2032.0" y="1431.8" font-size="20.5" fill="#4a4b4e" font-weight="bold" text-anchor="middle" >Nov</text>
<text x="73.7" y="1431.8" font-size="20.5" fill="#58595c" stroke="#58595c" stroke-width="0.35" text-anchor="middle" letter-spacing="1">26</text>
<text x="293.7" y="1431.8" font-size="20.5" fill="#58595c" stroke="#58595c" stroke-width="0.35" text-anchor="middle" letter-spacing="1">6</text>
<text x="393.7" y="1431.8" font-size="20.5" fill="#58595c" stroke="#58595c" stroke-width="0.35" text-anchor="middle" letter-spacing="1">11</text>
<text x="493.7" y="1431.8" font-size="20.5" fill="#58595c" stroke="#58595c" stroke-width="0.35" text-anchor="middle" letter-spacing="1">16</text>
<text x="593.7" y="1431.8" font-size="20.5" fill="#58595c" stroke="#58595c" stroke-width="0.35" text-anchor="middle" letter-spacing="1">21</text>
<text x="693.7" y="1431.8" font-size="20.5" fill="#58595c" stroke="#58595c" stroke-width="0.35" text-anchor="middle" letter-spacing="1">26</text>
<text x="913.7" y="1431.8" font-size="20.5" fill="#58595c" stroke="#58595c" stroke-width="0.35" text-anchor="middle" letter-spacing="1">6</text>
<text x="1012.7" y="1431.8" font-size="20.5" fill="#58595c" stroke="#58595c" stroke-width="0.35" text-anchor="middle" letter-spacing="1">11</text>
<text x="1112.7" y="1431.8" font-size="20.5" fill="#58595c" stroke="#58595c" stroke-width="0.35" text-anchor="middle" letter-spacing="1">16</text>
<text x="1212.7" y="1431.8" font-size="20.5" fill="#58595c" stroke="#58595c" stroke-width="0.35" text-anchor="middle" letter-spacing="1">21</text>
<text x="1312.7" y="1431.8" font-size="20.5" fill="#58595c" stroke="#58595c" stroke-width="0.35" text-anchor="middle" letter-spacing="1">26</text>
<text x="1512.7" y="1431.8" font-size="20.5" fill="#58595c" stroke="#58595c" stroke-width="0.35" text-anchor="middle" letter-spacing="1">6</text>
<text x="1612.7" y="1431.8" font-size="20.5" fill="#58595c" stroke="#58595c" stroke-width="0.35" text-anchor="middle" letter-spacing="1">11</text>
<text x="1712.7" y="1431.8" font-size="20.5" fill="#58595c" stroke="#58595c" stroke-width="0.35" text-anchor="middle" letter-spacing="1">16</text>
<text x="1812.7" y="1431.8" font-size="20.5" fill="#58595c" stroke="#58595c" stroke-width="0.35" text-anchor="middle" letter-spacing="1">21</text>
<text x="1912.7" y="1431.8" font-size="20.5" fill="#58595c" stroke="#58595c" stroke-width="0.35" text-anchor="middle" letter-spacing="1">26</text>
<text x="2132.7" y="1431.8" font-size="20.5" fill="#58595c" stroke="#58595c" stroke-width="0.35" text-anchor="middle" letter-spacing="1">6</text>
<text x="2232.7" y="1431.8" font-size="20.5" fill="#58595c" stroke="#58595c" stroke-width="0.35" text-anchor="middle" letter-spacing="1">11</text>
<text x="2332.7" y="1431.8" font-size="20.5" fill="#58595c" stroke="#58595c" stroke-width="0.35" text-anchor="middle" letter-spacing="1">16</text>
<text x="2432.7" y="1431.8" font-size="20.5" fill="#58595c" stroke="#58595c" stroke-width="0.35" text-anchor="middle" letter-spacing="1">21</text>
<text x="2532.7" y="1431.8" font-size="20.5" fill="#58595c" stroke="#58595c" stroke-width="0.35" text-anchor="middle" letter-spacing="1">26</text>
<g fill="#dcdcdc">
<path d="M21.3,1490 H43 V1516.8 H32.4 V1500.3 H21.3 Z"/>
<circle cx="52.1" cy="1495.2" r="5.2"/>
<path d="M62.4,1490 H75.4 L64.8,1516.8 H52.1 Z"/>
</g>
<text x="88.2" y="1516.8" font-size="36.5" fill="#dcdcdc" font-weight="bold" textLength="217.5" lengthAdjust="spacingAndGlyphs" >TradingView</text>
</svg></body></html>
